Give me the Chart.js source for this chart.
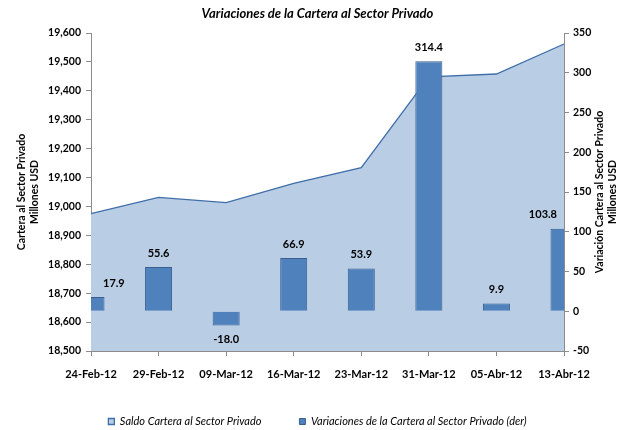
<!DOCTYPE html>
<html>
<head>
<meta charset="utf-8">
<script src="https://cdn.jsdelivr.net/npm/chart.js@4.4.1/dist/chart.umd.min.js"></script>
<style>
  html, body { margin: 0; padding: 0; background: #fff; }
  #wrap { width: 630px; height: 430px; }
</style>
</head>
<body>
<div id="wrap"><canvas id="carteraChart" width="630" height="430"></canvas></div>
<script>
// Fechas del eje X
const categories = ['24-Feb-12', '29-Feb-12', '09-Mar-12', '16-Mar-12',
                    '23-Mar-12', '31-Mar-12', '05-Abr-12', '13-Abr-12'];
// Saldo (eje izquierdo, millones USD)
const saldoCartera = [18975.5, 19031.1, 19013.1, 19080.0, 19133.9, 19448.3, 19458.2, 19562.0];
// Variaciones (eje derecho, millones USD)
const variaciones = [17.9, 55.6, -18.0, 66.9, 53.9, 314.4, 9.9, 103.8];
// Rangos de ejes: min, max, paso
const saldoAxis = [18500, 19600, 100];
const variacionAxis = [-50, 350, 50];

const FONT = 'Lato, "Open Sans", sans-serif';
const AXIS_GRAY = '#8c8c8c';

// Etiquetas de valor sobre las barras
const valueLabels = {
    id: 'valueLabels',
    afterDatasetsDraw(chart) {
        const { ctx, chartArea } = chart;
        const meta = chart.getDatasetMeta(1);
        ctx.save();
        ctx.font = 'bold 11px ' + FONT;
        ctx.fillStyle = '#000';
        ctx.textAlign = 'center';
        ctx.textBaseline = 'middle';
        meta.data.forEach((bar, i) => {
            const v = variaciones[i];
            const txt = v.toFixed(1);
            const w = ctx.measureText(txt).width;
            let x = Math.max(bar.x, chartArea.left + 12 + w / 2);
            x = Math.min(x, chartArea.right - 7 - w / 2);
            const y = v >= 0 ? bar.y - 14 : bar.y + 14;
            ctx.fillText(txt, x, y);
        });
        ctx.restore();
    }
};

// Titulos de ejes (ambos leen de abajo hacia arriba)
const axisTitles = {
    id: 'axisTitles',
    afterDraw(chart) {
        const { ctx, chartArea } = chart;
        const midY = (chartArea.top + chartArea.bottom) / 2;
        ctx.save();
        ctx.font = 'bold 10.5px ' + FONT;
        ctx.fillStyle = '#000';
        ctx.textAlign = 'center';
        ctx.textBaseline = 'middle';
        const drawTitle = (x, lines) => {
            ctx.save();
            ctx.translate(x, midY);
            ctx.rotate(-Math.PI / 2);
            lines.forEach((t, i) => ctx.fillText(t, 0, i * 13));
            ctx.restore();
        };
        drawTitle(chartArea.left - 69, ['Cartera al Sector Privado', 'Millones USD']);
        drawTitle(chartArea.right + 36, ['Variación Cartera al Sector Privado', 'Millones USD']);
        ctx.restore();
    }
};

const ctx = document.getElementById('carteraChart').getContext('2d');
const chart = new Chart(ctx, {
    type: 'bar',
    data: {
        labels: categories,
        datasets: [
            {
                type: 'line',
                label: 'Saldo Cartera al Sector Privado',
                data: saldoCartera,
                yAxisID: 'y',
                fill: 'start',
                backgroundColor: '#b9cde5',
                borderColor: '#3f6ea9',
                borderWidth: 1.3,
                pointRadius: 0,
                tension: 0,
                order: 2
            },
            {
                label: 'Variaciones de la Cartera al Sector Privado (der)',
                data: variaciones,
                yAxisID: 'y1',
                backgroundColor: '#4f81bd',
                borderColor: '#3a5f8d',
                borderWidth: 1,
                barPercentage: 0.5,
                categoryPercentage: 0.8,
                order: 1
            }
        ]
    },
    options: {
        responsive: false,
        animation: false,
        layout: { padding: { left: 41, right: 36, top: 0, bottom: 0 } },
        plugins: {
            title: {
                display: true,
                text: 'Variaciones de la Cartera al Sector Privado',
                color: '#000',
                font: { family: FONT, size: 13, weight: 'bold', style: 'italic' },
                padding: { top: 6, bottom: 11.4 }
            },
            legend: {
                position: 'bottom',
                maxHeight: 52,
                labels: {
                    color: '#000',
                    boxWidth: 6,
                    boxHeight: 6,
                    padding: 38,
                    font: { family: FONT, size: 11, style: 'italic' },
                    sort: (a, b) => a.datasetIndex - b.datasetIndex
                }
            },
            tooltip: { enabled: false }
        },
        scales: {
            x: {
                offset: false,
                afterFit: s => { s.height = 27; },
                grid: { offset: false, drawOnChartArea: false, tickLength: 5, color: AXIS_GRAY },
                border: { color: AXIS_GRAY },
                ticks: {
                    color: '#000',
                    maxRotation: 0,
                    autoSkip: false,
                    padding: 12,
                    font: { family: FONT, size: 11, weight: 'bold' }
                }
            },
            y: {
                position: 'left',
                min: saldoAxis[0],
                max: saldoAxis[1],
                afterFit: s => { s.width = 50; },
                grid: { drawOnChartArea: false, tickLength: 5, color: AXIS_GRAY },
                border: { color: AXIS_GRAY },
                ticks: {
                    stepSize: saldoAxis[2],
                    color: '#000',
                    padding: 5,
                    font: { family: FONT, size: 10.5, weight: 'bold' },
                    callback: v => v.toLocaleString('en-US')
                }
            },
            y1: {
                position: 'right',
                min: variacionAxis[0],
                max: variacionAxis[1],
                afterFit: s => { s.width = 30; },
                grid: { drawOnChartArea: false, tickLength: 5, color: AXIS_GRAY },
                border: { color: AXIS_GRAY },
                ticks: {
                    stepSize: variacionAxis[2],
                    color: '#000',
                    padding: 4,
                    font: { family: FONT, size: 10.5, weight: 'bold' }
                }
            }
        }
    },
    plugins: [valueLabels, axisTitles]
});
</script>
</body>
</html>
